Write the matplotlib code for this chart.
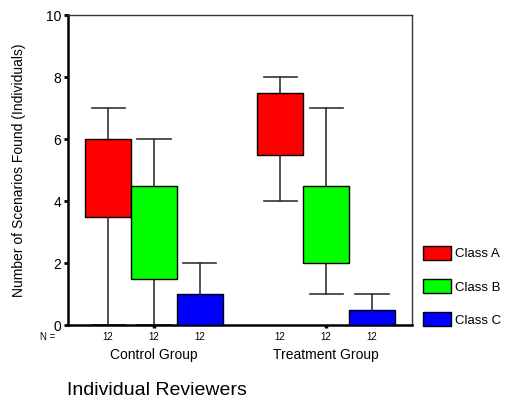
import matplotlib.pyplot as plt
from matplotlib.patches import Patch

plt.rcParams['font.family'] = ['Liberation Sans', 'DejaVu Sans']

groups = ['Control Group', 'Treatment Group']
classes = ['Class A', 'Class B', 'Class C']
colors = ['#ff0000', '#00ff00', '#0000ff']
counts = [12, 12, 12]

# (whislo, q1, med, q3, whishi) per class, per group
control = [(0, 3.5, 5, 6, 7), (0, 1.5, 3, 4.5, 6), (0, 0, 0, 1, 2)]
treatment = [(4, 5.5, 6.5, 7.5, 8), (1, 2, 3, 4.5, 7), (0, 0, 0, 0.5, 1)]

fig = plt.figure(figsize=(5.09, 4.01), dpi=100)
ax = fig.add_axes([0.1336, 0.1895, 0.676, 0.773])

width = 0.267
offsets = [-width, 0, width]
for gi, data in enumerate([control, treatment]):
    center = gi + 1
    for ci, (lo, q1, med, q3, hi) in enumerate(data):
        stats = [dict(whislo=lo, q1=q1, med=med, q3=q3, whishi=hi, fliers=[])]
        bp = ax.bxp(stats, positions=[center + offsets[ci]], widths=width,
                    patch_artist=True, showfliers=False, manage_ticks=False,
                    boxprops=dict(facecolor=colors[ci], edgecolor='black', linewidth=1.0),
                    medianprops=dict(color='black', linewidth=2.6),
                    whiskerprops=dict(color='#333333', linewidth=1.2),
                    capprops=dict(color='#333333', linewidth=1.2),
                    capwidths=width * 0.72)
        for b in bp['boxes']:
            b.set_zorder(3)
        ax.text(center + offsets[ci], -0.38, str(counts[ci]), ha='center', va='center',
                fontsize=7)
    ax.text(center, -0.98, groups[gi], ha='center', va='center', fontsize=10)

ax.text(0.5 - 0.12, -0.38, 'N =', ha='center', va='center', fontsize=7)

ax.set_xlim(0.5, 2.5)
ax.set_ylim(0, 10)
ax.set_yticks([0, 2, 4, 6, 8, 10])
ax.set_xticks([1, 2])
ax.set_xticklabels([])
ax.tick_params(axis='y', direction='out', length=3, width=2, labelsize=10, pad=2)
ax.tick_params(axis='x', direction='out', length=2, width=2.5)
for s in ['left', 'bottom']:
    ax.spines[s].set_linewidth(1.8)
for s in ['top', 'right']:
    ax.spines[s].set_linewidth(1.0)
    ax.spines[s].set_color('#333333')

ax.set_ylabel('Number of Scenarios Found (Individuals)', fontsize=10, labelpad=14)
fig.text(0.132, 0.027, 'Individual Reviewers', fontsize=14, ha='left', va='center')

handles = [Patch(facecolor=c, edgecolor='black', linewidth=1.0) for c in colors]
fig.legend(handles, classes, loc='upper left', bbox_to_anchor=(0.831, 0.387),
           frameon=False, fontsize=9.5, handlelength=2.1, handleheight=1.3,
           labelspacing=1.4, handletextpad=0.3, borderpad=0, borderaxespad=0)

fig.savefig('out.png', dpi=100)
